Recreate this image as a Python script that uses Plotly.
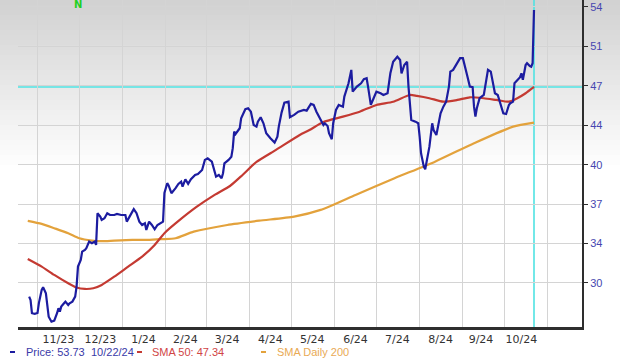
import plotly.graph_objects as go

# ---------------- data ----------------
price_dates = [
    "2023-10-26", "2023-10-27", "2023-10-28", "2023-10-30", "2023-11-01", "2023-11-02", "2023-11-04",
    "2023-11-05", "2023-11-07", "2023-11-08", "2023-11-09", "2023-11-11", "2023-11-13", "2023-11-15",
    "2023-11-16", "2023-11-17", "2023-11-18", "2023-11-20", "2023-11-21", "2023-11-23", "2023-11-24",
    "2023-11-26", "2023-11-28", "2023-11-29", "2023-11-30", "2023-12-02", "2023-12-03", "2023-12-05",
    "2023-12-06", "2023-12-08", "2023-12-10", "2023-12-12", "2023-12-13", "2023-12-14", "2023-12-16",
    "2023-12-17", "2023-12-19", "2023-12-21", "2023-12-23", "2023-12-26", "2023-12-28", "2023-12-31",
    "2024-01-03", "2024-01-04", "2024-01-06", "2024-01-08", "2024-01-09", "2024-01-11", "2024-01-13",
    "2024-01-15", "2024-01-17", "2024-01-18", "2024-01-20", "2024-01-22", "2024-01-24", "2024-01-26",
    "2024-01-28", "2024-01-30", "2024-01-31", "2024-02-02", "2024-02-03", "2024-02-05", "2024-02-08",
    "2024-02-10", "2024-02-12", "2024-02-13", "2024-02-15", "2024-02-17", "2024-02-19", "2024-02-22",
    "2024-02-24", "2024-02-27", "2024-02-29", "2024-03-02", "2024-03-05", "2024-03-07", "2024-03-08",
    "2024-03-10", "2024-03-12", "2024-03-13", "2024-03-14", "2024-03-17", "2024-03-19", "2024-03-20",
    "2024-03-21", "2024-03-22", "2024-03-25", "2024-03-26", "2024-03-29", "2024-03-31", "2024-04-02",
    "2024-04-04", "2024-04-06", "2024-04-07", "2024-04-09", "2024-04-11", "2024-04-13", "2024-04-16",
    "2024-04-19", "2024-04-21", "2024-04-22", "2024-04-24", "2024-04-26", "2024-04-29", "2024-04-30",
    "2024-05-03", "2024-05-06", "2024-05-10", "2024-05-12", "2024-05-15", "2024-05-17", "2024-05-19",
    "2024-05-22", "2024-05-24", "2024-05-25", "2024-05-27", "2024-05-28", "2024-05-30", "2024-05-31",
    "2024-06-02", "2024-06-04", "2024-06-07", "2024-06-08", "2024-06-11", "2024-06-13", "2024-06-14",
    "2024-06-17", "2024-06-20", "2024-06-22", "2024-06-24", "2024-06-25", "2024-06-27", "2024-06-29",
    "2024-07-01", "2024-07-04", "2024-07-06", "2024-07-09", "2024-07-11", "2024-07-13", "2024-07-16",
    "2024-07-18", "2024-07-19", "2024-07-21", "2024-07-23", "2024-07-24", "2024-07-25", "2024-07-26",
    "2024-07-29", "2024-07-31", "2024-08-01", "2024-08-02", "2024-08-04", "2024-08-05", "2024-08-06",
    "2024-08-08", "2024-08-10", "2024-08-11", "2024-08-13", "2024-08-14", "2024-08-16", "2024-08-18",
    "2024-08-20", "2024-08-22", "2024-08-23", "2024-08-25", "2024-08-28", "2024-08-30", "2024-09-01",
    "2024-09-03", "2024-09-04", "2024-09-06", "2024-09-08", "2024-09-09", "2024-09-10", "2024-09-11",
    "2024-09-13", "2024-09-16", "2024-09-18", "2024-09-19", "2024-09-21", "2024-09-22", "2024-09-24",
    "2024-09-26", "2024-09-28", "2024-09-30", "2024-10-02", "2024-10-04", "2024-10-05", "2024-10-07",
    "2024-10-08", "2024-10-10", "2024-10-12", "2024-10-13", "2024-10-14", "2024-10-16", "2024-10-17",
    "2024-10-19", "2024-10-20", "2024-10-21", "2024-10-22",
]
price_values = [
    29.02, 28.73, 27.59, 27.53, 27.61, 28.48, 29.60,
    29.83, 29.31, 28.30, 27.29, 26.86, 26.95, 27.59,
    28.02, 27.73, 28.16, 28.45, 28.59, 28.30, 28.45,
    28.59, 29.02, 29.88, 31.61, 32.18, 32.90, 33.05,
    33.19, 33.76, 33.62, 33.76, 33.48, 36.21, 35.92,
    35.63, 35.78, 36.21, 36.06, 36.06, 36.15, 36.06,
    36.06, 35.49, 35.92, 36.35, 36.56, 36.21, 35.49,
    35.20, 35.35, 34.77, 35.49, 35.20, 34.83, 35.20,
    35.35, 35.49, 37.96, 38.80, 38.61, 37.94, 38.37,
    38.74, 38.94, 38.50, 39.14, 38.74, 39.14, 39.51,
    39.60, 39.94, 40.81, 40.95, 40.66, 39.66, 39.37,
    39.51, 39.23, 39.66, 40.52, 40.81, 41.09, 41.82,
    43.25, 43.05, 43.54, 44.40, 45.18, 45.26, 44.97,
    43.82, 43.68, 44.11, 44.49, 43.97, 43.11, 42.68,
    42.30, 42.82, 43.68, 44.89, 45.75, 45.83, 44.49,
    44.69, 44.97, 45.12, 45.06, 45.64, 45.55, 44.97,
    44.26, 43.82, 43.97, 43.74, 43.11, 42.59, 43.97,
    45.12, 45.55, 45.40, 46.27, 47.42, 48.57, 46.70,
    47.13, 47.42, 47.77, 47.85, 47.13, 45.55, 46.13,
    46.70, 46.56, 46.41, 46.56, 48.28, 49.28, 49.71,
    49.43, 48.28, 49.00, 49.28, 47.13, 45.40, 44.26,
    44.11, 43.97, 42.82, 41.38, 40.23, 40.00, 40.66,
    41.95, 43.97, 43.39, 42.96, 43.68, 44.83, 45.40,
    45.83, 47.13, 48.42, 48.57, 49.15, 49.58, 49.58,
    48.71, 48.14, 47.13, 47.08, 45.40, 44.54, 45.26,
    46.13, 46.41, 47.71, 48.57, 48.42, 47.71, 46.56,
    46.41, 45.70, 44.83, 44.77, 45.55, 45.70, 45.83,
    47.42, 47.71, 47.94, 48.28, 47.71, 49.00, 49.15,
    48.91, 48.85, 49.15, 53.73,
]

sma50_dates = [
    "2023-10-25", "2023-11-04", "2023-11-13", "2023-11-23", "2023-11-29", "2023-12-05", "2023-12-11",
    "2023-12-17", "2023-12-26", "2024-01-05", "2024-01-15", "2024-01-24", "2024-01-31", "2024-02-11",
    "2024-02-23", "2024-03-07", "2024-03-18", "2024-03-27", "2024-04-06", "2024-04-20", "2024-05-07",
    "2024-05-14", "2024-05-24", "2024-06-07", "2024-06-19", "2024-07-01", "2024-07-13", "2024-07-25",
    "2024-07-30", "2024-08-08", "2024-08-18", "2024-08-28", "2024-09-06", "2024-09-16", "2024-09-25",
    "2024-10-04", "2024-10-10", "2024-10-16", "2024-10-22",
]
sma50_values = [
    32.27, 31.61, 30.89, 30.17, 29.80, 29.68, 29.74,
    30.03, 30.74, 31.61, 32.47, 33.48, 34.49, 35.63,
    36.75, 37.79, 38.56, 39.51, 40.63, 41.67, 42.96,
    43.39, 44.08, 44.54, 44.97, 45.55, 45.83, 46.41,
    46.33, 46.13, 45.83, 45.98, 46.21, 46.13, 45.98,
    45.83, 46.13, 46.56, 47.10,
]

sma200_dates = [
    "2023-10-25", "2023-11-04", "2023-11-13", "2023-11-23", "2023-12-01", "2023-12-10", "2023-12-17",
    "2023-12-26", "2024-01-08", "2024-01-19", "2024-01-29", "2024-02-08", "2024-02-21", "2024-03-16",
    "2024-04-08", "2024-05-03", "2024-05-22", "2024-06-16", "2024-07-14", "2024-08-12", "2024-09-09",
    "2024-10-07", "2024-10-22",
]
sma200_values = [
    35.55, 35.29, 34.92, 34.49, 34.05, 33.85, 33.80,
    33.85, 33.91, 33.91, 33.97, 34.05, 34.62, 35.20,
    35.57, 35.92, 36.50, 37.79, 39.23, 40.66, 42.25,
    43.68, 44.02,
]

y_tick_values = [30.2, 33.6, 37.0, 40.4, 43.8, 47.2, 50.6, 54.0]
y_tick_labels = ["30", "34", "37", "40", "44", "47", "51", "54"]

month_starts = [
    "2023-11-01", "2023-12-01", "2024-01-01", "2024-02-01", "2024-03-01", "2024-04-01", "2024-05-01",
    "2024-06-01", "2024-07-01", "2024-08-01", "2024-09-01", "2024-10-01", "2024-11-01",
]
x_label_dates = [
    "2023-11-16", "2023-12-16", "2024-01-16", "2024-02-15", "2024-03-16", "2024-04-16",
    "2024-05-16", "2024-06-16", "2024-07-16", "2024-08-16", "2024-09-14", "2024-10-13",
]
x_labels = ["11/23", "12/23", "1/24", "2/24", "3/24", "4/24", "5/24", "6/24", "7/24", "8/24", "9/24", "10/24"]

legend_price = "Price: 53.73"
legend_date = "10/22/24"
legend_sma50 = "SMA 50: 47.34"
legend_sma200 = "SMA Daily 200"

# ---------------- styles ----------------
BLUE = "#1c1ca0"
RED = "#c43a32"
ORANGE = "#e3a23c"
CYAN = "#4fe3e3"
GRID = "#d4d4d4"
AXIS = "#2e2e2e"

W, H = 620, 363
ML, MR, MT, MB = 18, 38, 0, 36
PW, PH = W - ML - MR, H - MT - MB

fig = go.Figure()

fig.add_trace(go.Scatter(x=sma200_dates, y=sma200_values, mode="lines",
                         line=dict(color=ORANGE, width=2.2, shape="spline", smoothing=0.6),
                         hoverinfo="skip", showlegend=False))
fig.add_trace(go.Scatter(x=sma50_dates, y=sma50_values, mode="lines",
                         line=dict(color=RED, width=2.2, shape="spline", smoothing=0.6),
                         hoverinfo="skip", showlegend=False))
fig.add_trace(go.Scatter(x=price_dates, y=price_values, mode="lines",
                         line=dict(color=BLUE, width=2.2),
                         hoverinfo="skip", showlegend=False))

shapes = []
# background gradient (grey at the top fading to white)
n_bands = 34
band_px = 5
for i in range(n_bands):
    t = i / (n_bands - 1)
    c = int(210 + (255 - 210) * t)
    y_top = 1 - (i * band_px) / PH
    y_bot = 1 - ((i + 1) * band_px) / PH
    shapes.append(dict(type="rect", xref="paper", yref="paper",
                       x0=-ML / PW - 0.01, x1=1 + MR / PW + 0.01,
                       y0=y_bot, y1=y_top + 0.02 if i == 0 else y_top,
                       fillcolor=f"rgb({c},{c},{c})", line=dict(width=0), layer="below"))

# cyan crosshair at last date / last SMA50 value
shapes.append(dict(type="line", xref="x", yref="paper", x0=price_dates[-1], x1=price_dates[-1],
                   y0=0, y1=1, line=dict(color=CYAN, width=1.6), layer="between"))
shapes.append(dict(type="line", xref="paper", yref="y", x0=0, x1=1,
                   y0=sma50_values[-1], y1=sma50_values[-1],
                   line=dict(color=CYAN, width=1.6), layer="between"))


def px_x(px):
    return (px - ML) / PW


def px_y(py):
    return 1 - (py - MT) / PH


legend_y = 352
for x0, col in [(10, BLUE), (137, RED), (261, ORANGE)]:
    shapes.append(dict(type="line", xref="paper", yref="paper",
                       x0=px_x(x0), x1=px_x(x0 + 5), y0=px_y(legend_y), y1=px_y(legend_y),
                       line=dict(color=col, width=2)))

annotations = []
for x0, txt, col in [(24, legend_price, "#3a3aa8"), (89, legend_date, "#3a3aa8"),
                     (150, legend_sma50, "#d04545"), (275, legend_sma200, "#e9aa55")]:
    annotations.append(dict(xref="paper", yref="paper", x=px_x(x0), y=px_y(legend_y),
                            text=txt, showarrow=False, xanchor="left", yanchor="middle",
                            font=dict(family="Liberation Sans, Arial", size=11, color=col)))

annotations.append(dict(xref="x", yref="paper", x="2023-11-30", y=1, yanchor="top", yshift=3,
                        text="<b>N</b>", showarrow=False,
                        font=dict(family="DejaVu Sans", size=10, color="#22d022")))

fig.update_layout(
    width=W, height=H,
    margin=dict(l=ML, r=MR, t=MT, b=MB),
    paper_bgcolor="white",
    plot_bgcolor="rgba(0,0,0,0)",
    shapes=shapes,
    annotations=annotations,
    showlegend=False,
    xaxis=dict(
        type="date",
        range=["2023-10-18", "2024-11-25 10:00"],
        tickmode="array", tickvals=x_label_dates, ticktext=x_labels,
        showgrid=False, ticks="",
        tickfont=dict(family="DejaVu Sans", size=11, color="#333333"),
        showline=True, linecolor=AXIS, linewidth=2.5,
        minor=dict(tickmode="array", tickvals=month_starts, showgrid=True,
                   gridcolor=GRID, gridwidth=1, ticks=""),
        zeroline=False, fixedrange=True,
    ),
    yaxis=dict(
        side="right",
        range=[26.4, 54.6],
        tickmode="array", tickvals=y_tick_values, ticktext=y_tick_labels,
        showgrid=True, gridcolor=GRID, gridwidth=1,
        ticks="outside", ticklen=4, tickwidth=1, tickcolor=AXIS,
        tickfont=dict(family="Liberation Sans, Arial", size=11, color="#4646b0"),
        showline=True, linecolor=AXIS, linewidth=2,
        zeroline=False, fixedrange=True,
    ),
)

fig.write_html("out.html", config={"displayModeBar": False},
               post_script="document.body.style.margin='0';document.body.style.padding='0';")
